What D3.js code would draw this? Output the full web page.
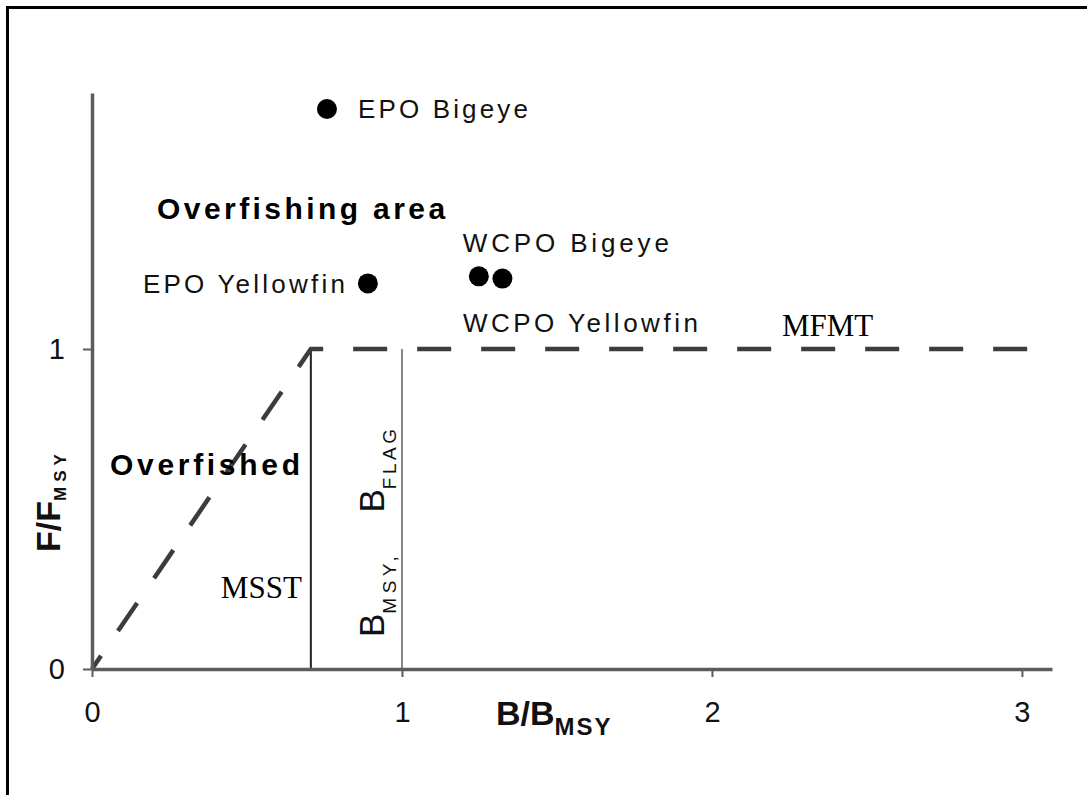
<!DOCTYPE html>
<html lang="en">
<head>
<meta charset="utf-8">
<title>Stock status</title>
<style>
body {
  margin: 0;
  background: #fff;
  font-family: "Liberation Sans", Arial, sans-serif;
}
.axis path { stroke: #5c5c5c; stroke-width: 3.5; }
.axis line { stroke: #5c5c5c; stroke-width: 2; }
.axis text { fill: #111; font-family: "Liberation Sans", Arial, sans-serif; font-size: 29px; }
.label { fill: #111; font-size: 26px; }
.bold { font-weight: bold; font-size: 30px; }
.serif { font-family: "Liberation Serif", "Times New Roman", serif; font-size: 31px; }
</style>
</head>
<body>
<div id="chart"></div>
<script src="https://cdn.jsdelivr.net/npm/d3@7/dist/d3.min.js"></script>
<script>

// stocks and their status (B/Bmsy, F/Fmsy)
var stocks = ["EPO Bigeye", "EPO Yellowfin", "WCPO Bigeye", "WCPO Yellowfin"];
var bRatio = [0.758, 0.890, 1.248, 1.324];
var fRatio = [1.75, 1.205, 1.227, 1.220];

var xTicks = [0, 1, 2, 3];
var yTicks = [0, 1];

// reference points
var msst = 0.706;
var bMsy = 1;
var mfmt = 1;
var ruleB = [0, msst, 3.02];
var ruleF = [0, mfmt, mfmt];

var width = 1087, height = 795;

var svg = d3.select("#chart").append("svg")
  .attr("width", width)
  .attr("height", height);

// frame (only left and top edges are in the picture)
svg.append("rect")
  .attr("x", 7.5).attr("y", 7.5)
  .attr("width", 1200).attr("height", 900)
  .attr("fill", "none")
  .attr("stroke", "#000")
  .attr("stroke-width", 3);

var x = d3.scaleLinear().domain([0, 3.097]).range([92, 1052]);
var y = d3.scaleLinear().domain([0, 1.8]).range([669, 93]);

// reference lines
svg.append("line")
  .attr("x1", x(msst)).attr("x2", x(msst))
  .attr("y1", y(0)).attr("y2", y(mfmt))
  .attr("stroke", "#222").attr("stroke-width", 2);

svg.append("line")
  .attr("x1", x(bMsy)).attr("x2", x(bMsy))
  .attr("y1", y(0)).attr("y2", y(mfmt))
  .attr("stroke", "#888").attr("stroke-width", 2);

var rule = d3.line()
  .x(function(d, i) { return x(ruleB[i]); })
  .y(function(d, i) { return y(ruleF[i]); });

svg.append("path")
  .attr("d", rule(ruleB))
  .attr("fill", "none")
  .attr("stroke", "#3c3c3c")
  .attr("stroke-width", 4.5)
  .attr("stroke-dasharray", "34,30")
  .attr("stroke-dashoffset", 18);

// axes
svg.append("g")
  .attr("class", "axis")
  .attr("transform", "translate(0," + y(0) + ")")
  .call(d3.axisBottom(x).tickValues(xTicks).tickFormat(d3.format("d"))
    .tickSize(8).tickSizeOuter(0).tickPadding(24));

svg.append("g")
  .attr("class", "axis")
  .attr("transform", "translate(" + x(0) + ",0)")
  .call(d3.axisLeft(y).tickValues(yTicks).tickFormat(d3.format("d"))
    .tickSize(9).tickSizeOuter(0).tickPadding(18));

// points
svg.selectAll("circle.stock")
  .data(stocks)
  .enter().append("circle")
  .attr("class", "stock")
  .attr("cx", function(d, i) { return x(bRatio[i]); })
  .attr("cy", function(d, i) { return y(fRatio[i]); })
  .attr("r", 10)
  .attr("fill", "#000");

// point labels: offset from the point, anchor, width
var labelPos = [
  { dx: 31, dy: 9, anchor: "start", len: 170 },
  { dx: -23, dy: 10, anchor: "end", len: 202 },
  { dx: -16, dy: -24, anchor: "start", len: 206 },
  { dx: -39.5, dy: 53.5, anchor: "start", len: 235 }
];

svg.selectAll("text.stock")
  .data(stocks)
  .enter().append("text")
  .attr("class", "label stock")
  .attr("x", function(d, i) { return x(bRatio[i]) + labelPos[i].dx; })
  .attr("y", function(d, i) { return y(fRatio[i]) + labelPos[i].dy; })
  .attr("text-anchor", function(d, i) { return labelPos[i].anchor; })
  .attr("textLength", function(d, i) { return labelPos[i].len; })
  .attr("lengthAdjust", "spacing")
  .text(function(d) { return d; });

// area labels
svg.append("text")
  .attr("class", "bold")
  .attr("x", x(0.21)).attr("y", y(1.406))
  .attr("textLength", 288).attr("lengthAdjust", "spacing")
  .text("Overfishing area");

svg.append("text")
  .attr("class", "bold")
  .attr("x", x(0.058)).attr("y", y(0.606))
  .attr("textLength", 190).attr("lengthAdjust", "spacing")
  .text("Overfished");

svg.append("text")
  .attr("class", "serif")
  .attr("x", x(msst) - 9).attr("y", y(0.222))
  .attr("text-anchor", "end")
  .text("MSST");

svg.append("text")
  .attr("class", "serif")
  .attr("x", x(2.226)).attr("y", y(mfmt) - 13)
  .text("MFMT");

// vertical labels on the Bmsy line
function subLabel(px, py, main, sub, spacing) {
  var t = svg.append("text")
    .attr("transform", "translate(" + px + "," + py + ") rotate(-90)")
    .style("font-size", "35px")
    .attr("fill", "#111")
    .text(main);
  t.append("tspan")
    .attr("dy", 12)
    .style("font-size", "19px")
    .style("letter-spacing", spacing + "px")
    .text(sub);
}
subLabel(x(bMsy) - 18, y(0.1), "B", "MSY,", 4.5);
subLabel(x(bMsy) - 18, y(0.489), "B", "FLAG", 3.5);

// axis titles
var xt = svg.append("text")
  .attr("x", 496).attr("y", 725)
  .style("font-weight", "bold").style("font-size", "34px")
  .attr("fill", "#111")
  .text("B/B");
xt.append("tspan")
  .attr("dy", 10)
  .style("font-size", "24px")
  .style("letter-spacing", "2px")
  .text("MSY");

var yt = svg.append("text")
  .attr("transform", "translate(60,552) rotate(-90)")
  .style("font-weight", "bold").style("font-size", "34px")
  .attr("fill", "#111")
  .text("F/F");
yt.append("tspan")
  .attr("dy", 6)
  .style("font-size", "17px")
  .style("letter-spacing", "5px")
  .text("MSY");

</script>
</body>
</html>
